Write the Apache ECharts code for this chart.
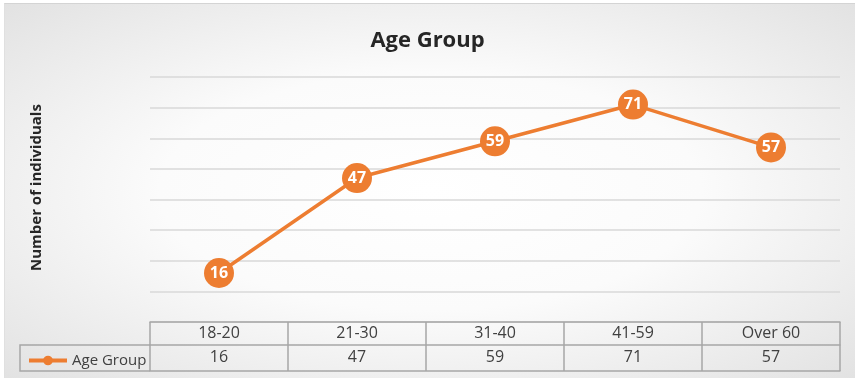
<!DOCTYPE html>
<html>
<head>
<meta charset="utf-8">
<script src="https://cdn.jsdelivr.net/npm/echarts@6/dist/echarts.min.js"></script>
<style>
  html, body { margin: 0; padding: 0; background: #fff; }
  #bg {
    position: absolute; left: 4px; top: 3px; width: 851px; height: 374px;
    border-top: 1px solid #d4d4d4; border-left: 1px solid #e0e0e0;
    background: radial-gradient(ellipse at center, #ffffff 0%, #fbfbfb 45%, #e2e2e2 100%);
  }
  #agechart { position: absolute; left: 0; top: 0; width: 855px; height: 379px; }
</style>
</head>
<body>
<div id="bg"></div>
<div id="agechart"></div>
<script>
  const categories = ['18-20', '21-30', '31-40', '41-59', 'Over 60']
  const counts = [16, 47, 59, 71, 57]
  const seriesName = 'Age Group'

  const orange = '#ED7D31'
  const border = '#a6a6a6'
  const textColor = '#404040'
  const font = '"Open Sans", "Noto Sans", sans-serif'

  const chart = echarts.init(document.getElementById('agechart'))

  chart.setOption({
    backgroundColor: 'transparent',
    textStyle: { fontFamily: font },
    title: {
      text: 'Age Group',
      left: 'center',
      top: 25,
      textStyle: { fontSize: 22, fontWeight: 'bold', color: '#262626', fontFamily: font }
    },
    legend: {
      data: [seriesName],
      left: 22,
      top: 348,
      itemWidth: 38,
      itemHeight: 12,
      lineStyle: { width: 4 },
      textStyle: { fontSize: 15, color: textColor, fontFamily: font }
    },
    grid: { left: 150, right: 15, top: 77, bottom: 57 },
    xAxis: [
      {
        type: 'category',
        data: categories,
        position: 'bottom',
        axisLine: { lineStyle: { color: border, width: 1.5 } },
        axisTick: { show: true, interval: 0, length: 49, lineStyle: { color: border, width: 1.5 } },
        axisLabel: { interval: 0, margin: 3, fontSize: 16, color: textColor, fontFamily: font }
      },
      {
        type: 'category',
        data: categories,
        position: 'bottom',
        offset: 23,
        axisLine: { lineStyle: { color: border, width: 1.5 } },
        axisTick: { show: false },
        axisLabel: {
          interval: 0, margin: 4, fontSize: 16, color: textColor, fontFamily: font,
          formatter: (v, i) => String(counts[i])
        }
      },
      {
        type: 'category',
        data: categories,
        position: 'bottom',
        offset: 49,
        axisLine: { lineStyle: { color: border, width: 1.5 } },
        axisTick: { show: false },
        axisLabel: { show: false }
      }
    ],
    yAxis: {
      type: 'value',
      min: 0,
      max: 80,
      interval: 10,
      axisLine: { show: false },
      axisTick: { show: false },
      axisLabel: { show: false },
      splitLine: { lineStyle: { color: '#d9d9d9', width: 1.5 } }
    },
    graphic: [
      {
        type: 'text',
        rotation: Math.PI / 2,
        x: 29,
        y: 271,
        style: {
          text: 'Number of individuals',
          fill: '#262626',
          font: 'bold 15px ' + font
        }
      },
      {
        type: 'polyline',
        shape: { points: [[150, 345], [20, 345], [20, 371], [150, 371]] },
        style: { stroke: border, lineWidth: 1.5, fill: null }
      }
    ],
    series: [
      {
        name: seriesName,
        type: 'line',
        xAxisIndex: 0,
        data: counts,
        color: orange,
        lineStyle: { width: 3.5, color: orange },
        itemStyle: { color: orange },
        symbol: 'circle',
        symbolSize: 30,
        label: {
          show: true,
          position: 'inside',
          color: '#fff',
          fontWeight: 'bold',
          fontSize: 16,
          fontFamily: font
        }
      }
    ]
  })
</script>
</body>
</html>
